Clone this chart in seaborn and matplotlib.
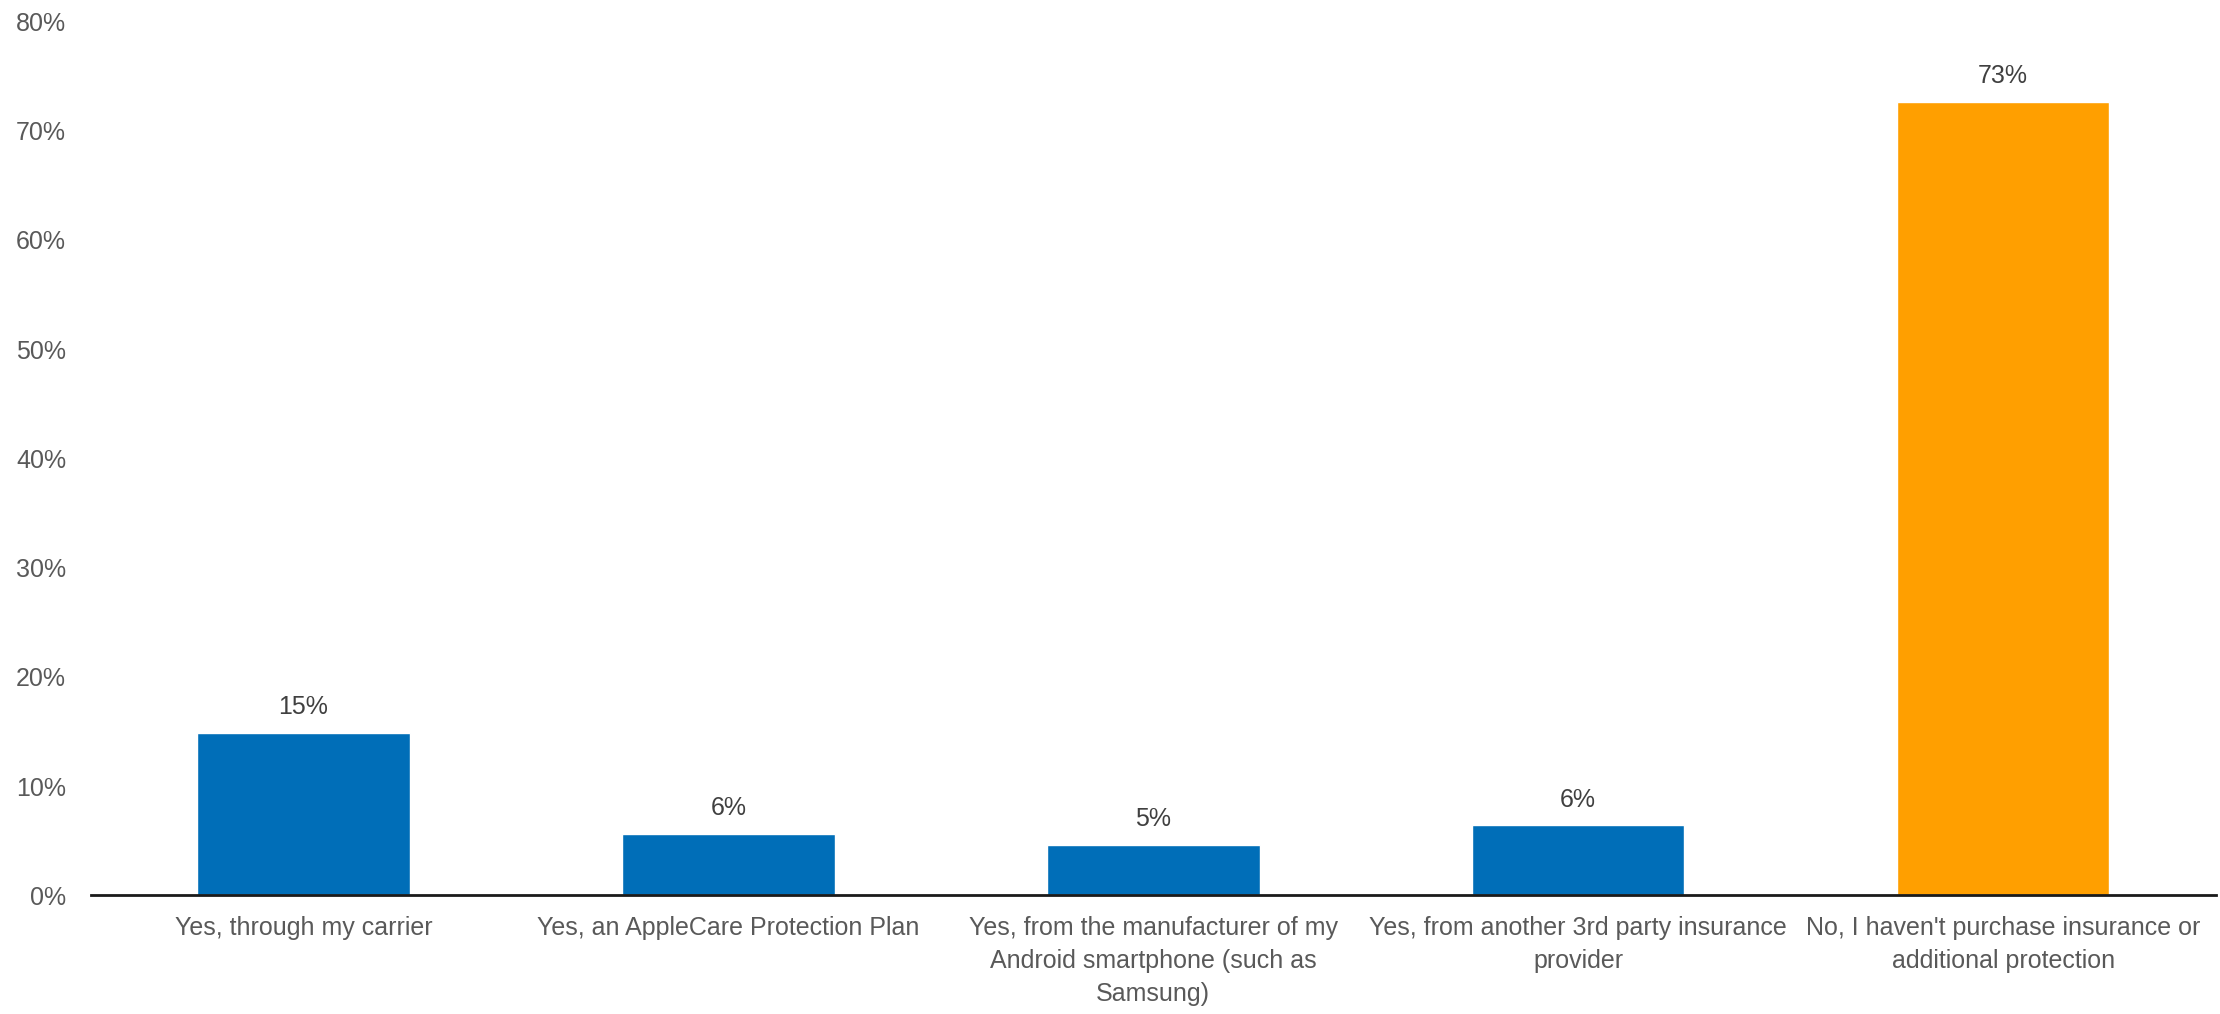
import matplotlib
matplotlib.use("Agg")
import matplotlib.pyplot as plt
import seaborn as sns
import pandas as pd
from matplotlib.ticker import FuncFormatter

categories = [
    "Yes, through my carrier",
    "Yes, an AppleCare Protection Plan",
    "Yes, from the manufacturer of my\nAndroid smartphone (such as\nSamsung)",
    "Yes, from another 3rd party insurance\nprovider",
    "No, I haven't purchase insurance or\nadditional protection",
]
values = [14.9, 5.6, 4.6, 6.4, 72.6]
value_labels = ["15%", "6%", "5%", "6%", "73%"]
bar_colors = ["#006EB8", "#006EB8", "#006EB8", "#006EB8", "#FF9F00"]
y_ticks = [0, 10, 20, 30, 40, 50, 60, 70, 80]

sns.set_theme(style="white")
plt.rcParams["font.family"] = ["Liberation Sans", "DejaVu Sans"]
size = 18

df = pd.DataFrame({"category": categories, "value": values})

fig = plt.figure(figsize=(22.2, 10.14), dpi=100)
ax = fig.add_axes([0.041, 0.117, 0.957, 0.862])

sns.barplot(data=df, x="category", y="value", hue="category",
            palette=bar_colors, legend=False, width=0.5, saturation=1,
            ax=ax)

for cont, lab in zip(ax.containers, value_labels):
    ax.bar_label(cont, labels=[lab], padding=10, fontsize=size, color="#404040")

ax.set_xlim(-0.5, 4.5)
ax.set_ylim(0, 80)
ax.set_yticks(y_ticks)
ax.yaxis.set_major_formatter(FuncFormatter(lambda v, p: f"{v:.0f}%"))
ax.set_xlabel("")
ax.set_ylabel("")
ax.tick_params(axis="both", length=0, labelsize=size, labelcolor="#595959")
ax.tick_params(axis="x", pad=15)
ax.tick_params(axis="y", pad=18)
for lab in ax.get_xticklabels():
    lab.set_linespacing(1.47)

for s in ["top", "right", "left"]:
    ax.spines[s].set_visible(False)
ax.spines["bottom"].set_color("#1a1a1a")
ax.spines["bottom"].set_linewidth(2)
ax.grid(False)

fig.savefig("out.png", dpi=100)
